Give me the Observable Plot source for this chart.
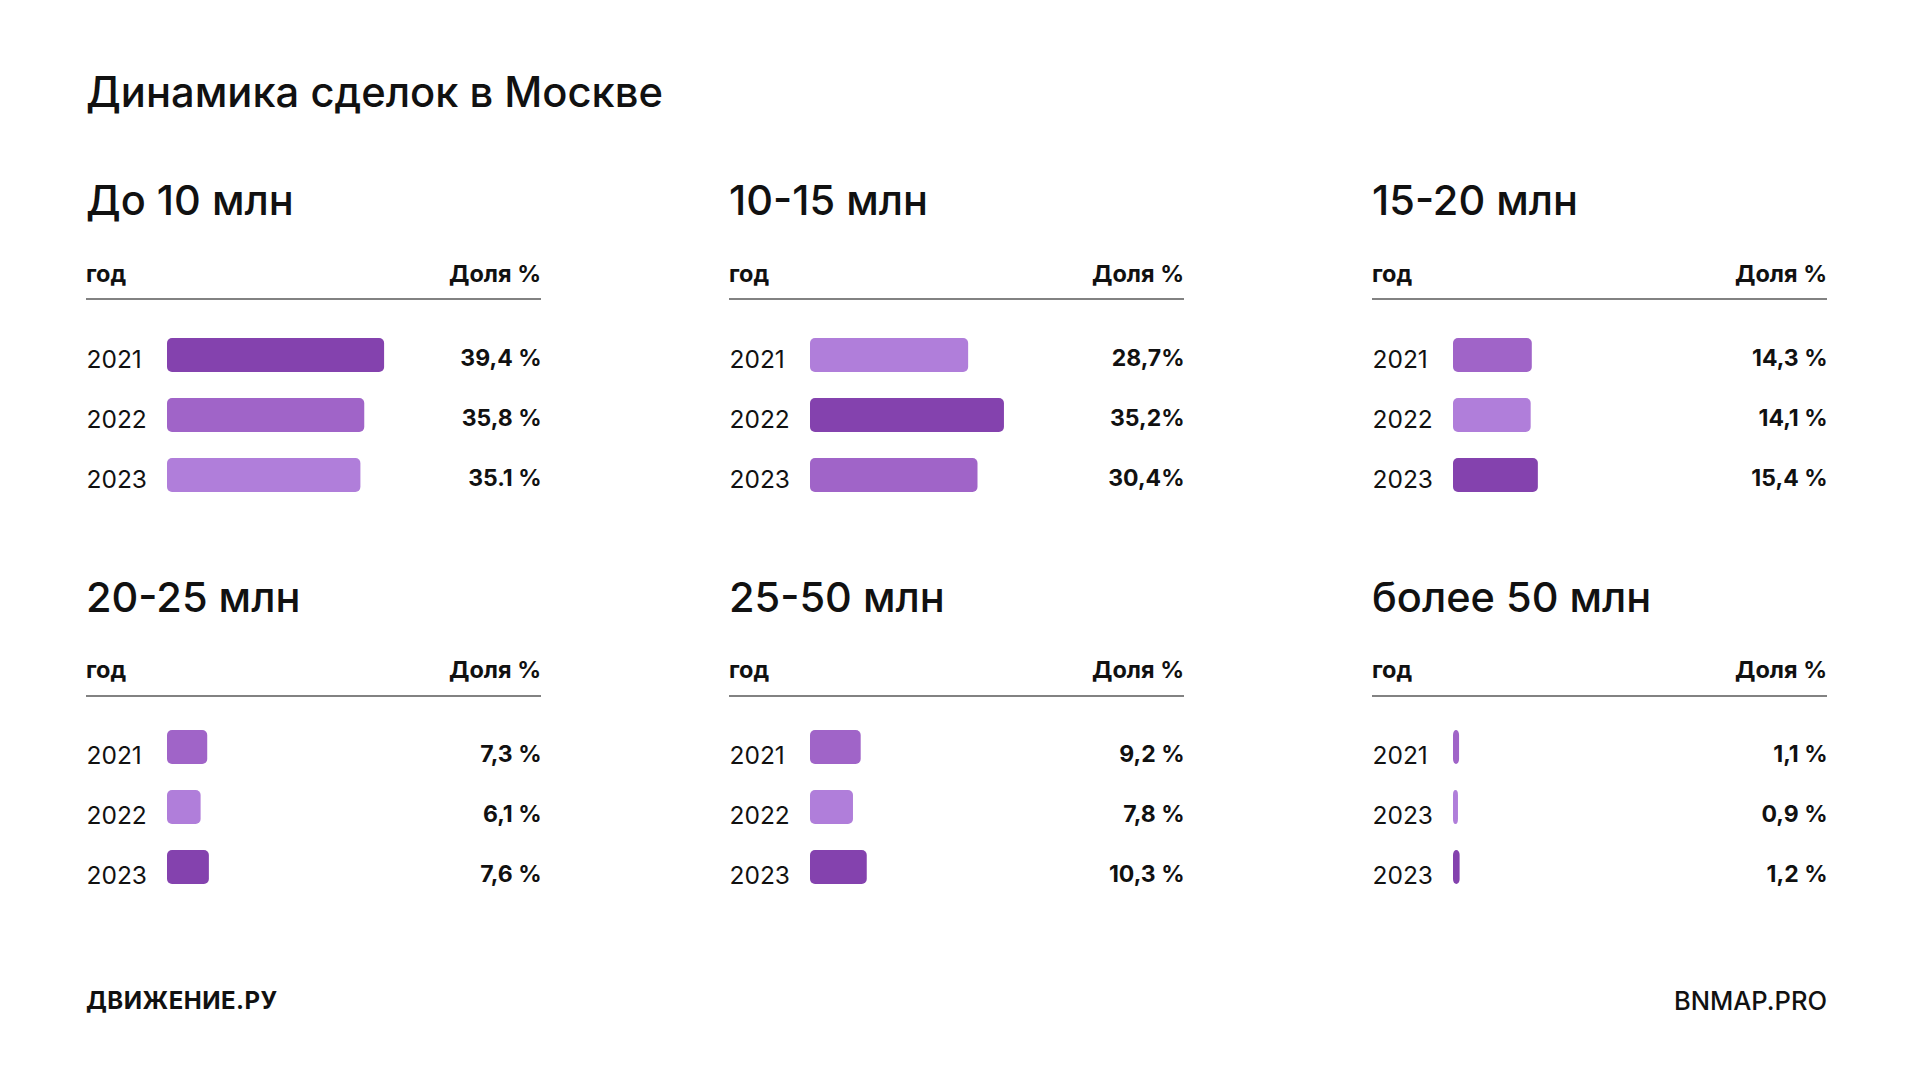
<!DOCTYPE html>
<html lang="ru">
<head>
<meta charset="utf-8">
<script src="https://cdn.jsdelivr.net/npm/d3@7"></script>
<script src="https://cdn.jsdelivr.net/npm/@observablehq/plot@0.6"></script>
<style>
  html, body { margin: 0; padding: 0; background: #fff; }
  #page { position: relative; width: 1920px; height: 1080px; background: #fff; font-family: Inter, "Noto Sans", sans-serif; color: #111; overflow: hidden; }
  .abs { position: absolute; white-space: nowrap; line-height: 1; }
  .title { font-size: 41.7px; font-weight: 500; }
  .sub { font-size: 41.5px; font-weight: 500; }
  .head { font-size: 23.5px; font-weight: 700; }
  .rule { position: absolute; height: 2px; background: #828282; }
</style>
</head>
<body>
<div id="page"></div>
<script>
// ---- data ----
const chartTitle = "Динамика сделок в Москве";
const panelTitles = ["До 10 млн", "10-15 млн", "15-20 млн", "20-25 млн", "25-50 млн", "более 50 млн"];
const yearLabels = [
  ["2021", "2022", "2023"],
  ["2021", "2022", "2023"],
  ["2021", "2022", "2023"],
  ["2021", "2022", "2023"],
  ["2021", "2022", "2023"],
  ["2021", "2023", "2023"]
];
const shares = [
  [39.4, 35.8, 35.1],
  [28.7, 35.2, 30.4],
  [14.3, 14.1, 15.4],
  [7.3, 6.1, 7.6],
  [9.2, 7.8, 10.3],
  [1.1, 0.9, 1.2]
];
const shareLabels = [
  ["39,4 %", "35,8 %", "35.1 %"],
  ["28,7%", "35,2%", "30,4%"],
  ["14,3 %", "14,1 %", "15,4 %"],
  ["7,3 %", "6,1 %", "7,6 %"],
  ["9,2 %", "7,8 %", "10,3 %"],
  ["1,1 %", "0,9 %", "1,2 %"]
];
const headYear = "год";
const headShare = "Доля %";
const footLeft = "ДВИЖЕНИЕ.РУ";
const footRight = "BNMAP.PRO";

// ---- layout ----
const page = document.getElementById("page");
const colX = [86, 729, 1372];
const rowText = [0, 396.5];
const rowBars = [0, 392];
const rowLabelShift = [0, 4];
const panelW = 455;
const shadeRange = ["#B07EDA", "#A064C8", "#8442AE"]; // smallest -> largest

function addText(cls, text, left, top, extra) {
  const d = document.createElement("div");
  d.className = "abs " + cls;
  d.textContent = text;
  d.style.left = left + "px";
  d.style.top = top + "px";
  if (extra) Object.assign(d.style, extra);
  page.appendChild(d);
  return d;
}
function addTextRight(cls, text, right, top, extra) {
  const d = addText(cls, text, 0, top, extra);
  d.style.left = "auto";
  d.style.right = (1920 - right) + "px";
  return d;
}

addText("title", chartTitle, 86, 71.6);

panelTitles.forEach((t, p) => {
  const cx = colX[p % 3];
  const row = Math.floor(p / 3);
  const ry = rowText[row];
  const by = rowBars[row];
  addText("sub", t, cx, 180 + ry);
  addText("head", headYear, cx, 261.5 + ry);
  addTextRight("head", headShare, cx + panelW, 261.5 + ry);
  const r = document.createElement("div");
  r.className = "rule";
  r.style.left = cx + "px";
  r.style.top = (298 + ry) + "px";
  r.style.width = panelW + "px";
  page.appendChild(r);

  const vals = shares[p];
  const order = vals.map((v, i) => i).sort((a, b) => vals[a] - vals[b]);
  const rows = vals.map((v, i) => ({
    i,
    value: v,
    year: yearLabels[p][i],
    label: shareLabels[p][i],
    rank: order.indexOf(i)
  }));

  const svg = Plot.plot({
    width: panelW,
    height: 190,
    marginLeft: 0,
    marginRight: 0,
    marginTop: 4,
    marginBottom: 4,
    style: { fontFamily: "Inter, 'Noto Sans', sans-serif", background: "transparent", overflow: "visible" },
    x: { axis: null, domain: [0, 50], range: [81, 81 + 50 * 5.51] },
    y: { axis: null, type: "band", domain: [0, 1, 2], paddingInner: 0.44, paddingOuter: 0.22 },
    color: { type: "ordinal", domain: [0, 1, 2], range: shadeRange },
    marks: [
      Plot.barX(rows, { x: "value", y: "i", fill: "rank", rx: 5 }),
      Plot.text(rows, { y: "i", text: "year", frameAnchor: "left", textAnchor: "start", dy: 5 + rowLabelShift[row], fontSize: 24.5, fill: "#111" }),
      Plot.text(rows, { y: "i", text: "label", frameAnchor: "right", textAnchor: "end", dy: 3 + rowLabelShift[row], fontSize: 23, fontWeight: 700, fill: "#111" })
    ]
  });
  svg.style.position = "absolute";
  svg.style.left = cx + "px";
  svg.style.top = (320 + by) + "px";
  page.appendChild(svg);
});

addText("foot", footLeft, 86, 989, { fontSize: "24px", fontWeight: 700, letterSpacing: "0.5px" });
addTextRight("foot", footRight, 1827, 988, { fontSize: "25.5px", fontWeight: 500 });
</script>
</body>
</html>
